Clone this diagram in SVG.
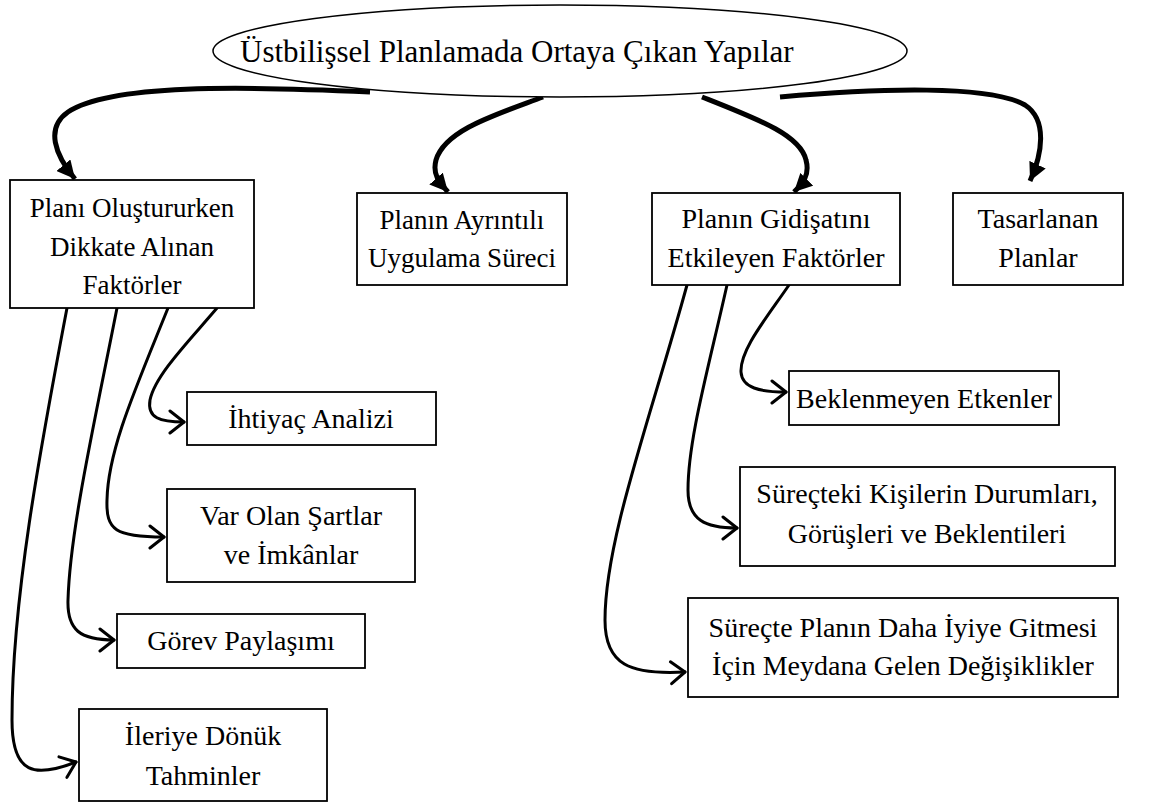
<svg xmlns="http://www.w3.org/2000/svg" width="1157" height="807" viewBox="0 0 1157 807">
<style>
.box{fill:#fff;stroke:#000;stroke-width:1.8}
.t{font-family:'Liberation Serif','DejaVu Serif',serif;font-size:28px;fill:#000;text-anchor:middle}
.s{font-size:27px}
.thick{fill:none;stroke:#000;stroke-width:5;marker-end:url(#tri)}
.thin{fill:none;stroke:#000;stroke-width:3;stroke-linecap:round;marker-end:url(#chev)}
</style>
<defs>
<marker id="tri" markerUnits="userSpaceOnUse" markerWidth="20" markerHeight="18" refX="18" refY="9" orient="auto">
<path d="M0,0 L18,9 L0,18 z" fill="#000"/>
</marker>
<marker id="chev" markerUnits="userSpaceOnUse" markerWidth="20" markerHeight="26" refX="16" refY="13" orient="auto">
<path d="M2,2 L16,13 L2,24" fill="none" stroke="#000" stroke-width="3" stroke-linecap="round" stroke-linejoin="round"/>
</marker>
</defs>
<g id="connectors">
<path class="thick" d="M370,92 C240,86 110,84 68,112 C45,128 55,155 75,179"/>
<path class="thick" d="M543,97 C495,115 445,130 436,160 C432,175 440,183 448,192"/>
<path class="thick" d="M702,97 C760,120 800,135 806,160 C810,175 803,183 794,192"/>
<path class="thick" d="M780,97 C880,88 990,85 1025,105 C1048,120 1042,155 1030,181"/>
<path class="thin" d="M217,308 C190,340 155,375 150,400 C147,418 160,422 184,422"/>
<path class="thin" d="M168,308 C135,390 108,450 107,500 C106,530 115,537 164,537"/>
<path class="thin" d="M117,308 C95,420 70,530 68,600 C67,630 80,640 114,640"/>
<path class="thin" d="M67,308 C40,450 12,600 12,720 C12,775 35,778 76,762"/>
<path class="thin" d="M789,285 C765,320 740,350 741,372 C742,388 760,392 786,392"/>
<path class="thin" d="M727,285 C708,370 688,440 688,490 C688,520 705,528 737,528"/>
<path class="thin" d="M687,285 C650,420 605,540 605,620 C605,665 630,675 685,672"/>
</g>
<g id="root">
<ellipse cx="560" cy="51" rx="347" ry="46" fill="#fff" stroke="#000" stroke-width="1.5"/>
<text class="t" x="240" y="62" style="text-anchor:start;font-size:31px">Üstbilişsel Planlamada Ortaya Çıkan Yapılar</text>
</g>
<g id="n1">
<rect class="box" x="10" y="180" width="244" height="128"/>
<text class="t s" x="132" y="217">Planı Oluştururken</text>
<text class="t s" x="132" y="256">Dikkate Alınan</text>
<text class="t s" x="132" y="294">Faktörler</text>
</g>
<g id="n2">
<rect class="box" x="357" y="193" width="210" height="92"/>
<text class="t s" x="462" y="229">Planın Ayrıntılı</text>
<text class="t s" x="462" y="267">Uygulama Süreci</text>
</g>
<g id="n3">
<rect class="box" x="652" y="193" width="248" height="92"/>
<text class="t" x="776" y="228">Planın Gidişatını</text>
<text class="t" x="776" y="267">Etkileyen Faktörler</text>
</g>
<g id="n4">
<rect class="box" x="953" y="193" width="170" height="92"/>
<text class="t" x="1038" y="228">Tasarlanan</text>
<text class="t" x="1038" y="267">Planlar</text>
</g>
<g id="n5">
<rect class="box" x="187" y="392" width="249" height="53"/>
<text class="t" x="311" y="428">İhtiyaç Analizi</text>
</g>
<g id="n6">
<rect class="box" x="167" y="489" width="248" height="93"/>
<text class="t" x="291" y="525">Var Olan Şartlar</text>
<text class="t" x="291" y="564">ve İmkânlar</text>
</g>
<g id="n7">
<rect class="box" x="117" y="614" width="248" height="54"/>
<text class="t" x="241" y="650">Görev Paylaşımı</text>
</g>
<g id="n8">
<rect class="box" x="79" y="709" width="248" height="92"/>
<text class="t" x="203" y="745">İleriye Dönük</text>
<text class="t" x="203" y="785">Tahminler</text>
</g>
<g id="n9">
<rect class="box" x="789" y="371" width="270" height="54"/>
<text class="t" x="924" y="408">Beklenmeyen Etkenler</text>
</g>
<g id="n10">
<rect class="box" x="740" y="467" width="375" height="99"/>
<text class="t" x="927" y="503">Süreçteki Kişilerin Durumları,</text>
<text class="t" x="927" y="543">Görüşleri ve Beklentileri</text>
</g>
<g id="n11">
<rect class="box" x="688" y="598" width="430" height="99"/>
<text class="t" x="903" y="637">Süreçte Planın Daha İyiye Gitmesi</text>
<text class="t" x="903" y="675">İçin Meydana Gelen Değişiklikler</text>
</g>
</svg>
